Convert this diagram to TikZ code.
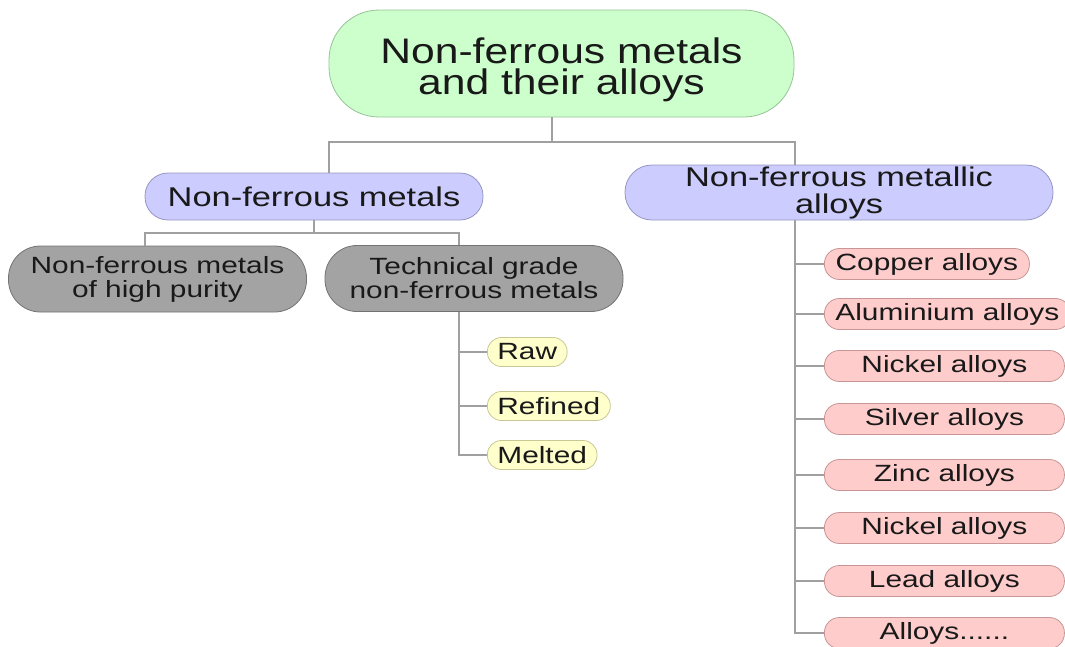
\documentclass[tikz,border=0pt]{standalone}
\usepackage{fontspec}
\setmainfont{Liberation Sans}[FakeStretch=1.27]
\newfontfamily\rootfont{Liberation Sans}[FakeStretch=1.2]

\definecolor{rootgreen}{RGB}{204,255,204}
\definecolor{rootedge}{RGB}{150,195,150}
\definecolor{groupblue}{RGB}{204,204,255}
\definecolor{groupedge}{RGB}{150,150,195}
\definecolor{kindgray}{RGB}{163,163,163}
\definecolor{kindedge}{RGB}{115,115,115}
\definecolor{stepyellow}{RGB}{255,255,204}
\definecolor{stepedge}{RGB}{200,200,150}
\definecolor{alloypink}{RGB}{255,204,204}
\definecolor{alloyedge}{RGB}{200,150,150}
\definecolor{linkgray}{RGB}{160,160,160}
\definecolor{ink}{RGB}{25,25,25}

\begin{document}
\begin{tikzpicture}[x=1pt,y=-1pt,
  box/.style={draw,text=ink,line width=0.8pt,align=center,inner sep=0pt},
  rootbox/.style={box,fill=rootgreen,draw=rootedge,minimum width=465pt,minimum height=107pt,
    rounded corners=50pt,font=\rootfont\fontsize{35.5}{31}\selectfont},
  groupbox/.style={box,fill=groupblue,draw=groupedge,rounded corners=23pt,
    font=\fontsize{27.1}{27}\selectfont},
  kindbox/.style={box,fill=kindgray,draw=kindedge,minimum width=298pt,minimum height=66pt,
    rounded corners=32pt,font=\fontsize{23.5}{24}\selectfont},
  stepbox/.style={box,fill=stepyellow,draw=stepedge,minimum height=29pt,inner xsep=10pt,
    rounded corners=14pt,anchor=west,font=\fontsize{23.5}{25}\selectfont},
  alloybox/.style={box,fill=alloypink,draw=alloyedge,minimum height=31pt,inner xsep=11pt,
    rounded corners=15pt,anchor=west,font=\fontsize{23.5}{25}\selectfont},
  link/.style={draw=linkgray,line width=1.2pt}]
\useasboundingbox (0,0) rectangle (1065,646);

\node[rootbox,text height=69pt] (root) at (561.5,63.5) {Non-ferrous metals\\and their alloys};
\node[groupbox,minimum width=338pt,minimum height=47pt] (metals) at (314,196.5) {Non-ferrous metals};
\node[groupbox,minimum width=428pt,minimum height=55pt,rounded corners=27pt] (alloys) at (839,192.5)
  {Non-ferrous metallic\\alloys};
\node[kindbox] (pure) at (157.5,279) {Non-ferrous metals\\of high purity};
\node[kindbox] (tech) at (474,278.5) {Technical grade\\non-ferrous metals};

\node[stepbox] (raw) at (487,352) {Raw};
\node[stepbox] (refined) at (487,406) {Refined};
\node[stepbox] (melted) at (487,455) {Melted};

\foreach \n/\y/\w/\t in {a1/264/205/Copper alloys, a2/314/240/Aluminium alloys,
    a3/366/240/Nickel alloys, a4/419/240/Silver alloys, a5/475/240/Zinc alloys,
    a6/528/240/Nickel alloys, a7/581/240/Lead alloys}
  \node[alloybox,minimum width=\w pt] (\n) at (824,\y) {\t};
\node[alloybox,minimum width=240pt] (a8) at (824,633) {Alloys......};

% bus lines
\coordinate (rj) at (552,142);
\coordinate (lb) at (329,142);
\coordinate (rb) at (795,142);
\coordinate (pl) at (145,233);
\coordinate (pr) at (459,233);

\draw[link] (rj |- root.south) -- (rj);
\draw[link] (lb |- metals.north) -- (lb) -- (rb) -- (rb |- alloys.north);
\draw[link] (metals.south) -- (metals.south |- pl);
\draw[link] (pl |- pure.north) -- (pl) -- (pr) -- (pr |- tech.north);

\draw[link] (pr |- tech.south) |- (melted.west);
\draw[link] (pr |- raw) -- (raw.west);
\draw[link] (pr |- refined) -- (refined.west);

\draw[link] (rb |- alloys.south) |- (a8.west);
\foreach \n in {a1,a2,a3,a4,a5,a6,a7}
  \draw[link] (rb |- \n) -- (\n.west);
\end{tikzpicture}
\end{document}
